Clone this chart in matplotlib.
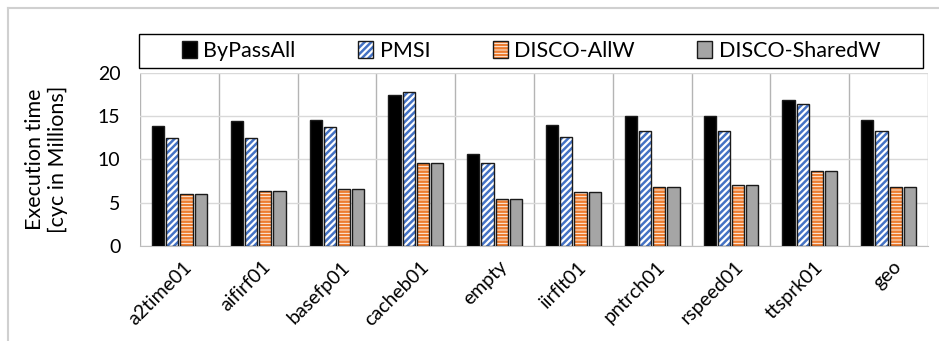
import matplotlib
matplotlib.use('Agg')
from matplotlib import pyplot as plt
from matplotlib.lines import Line2D
from matplotlib.patches import Rectangle
from matplotlib.legend_handler import HandlerTuple
from matplotlib.transforms import ScaledTranslation
import numpy as np

plt.rcParams['font.family'] = ['Lato', 'DejaVu Sans']
plt.rcParams['hatch.linewidth'] = 1.8

benchmarks = ['a2time01', 'aifirf01', 'basefp01', 'cacheb01', 'empty',
              'iirflt01', 'pntrch01', 'rspeed01', 'ttsprk01', 'geo']
series = ['ByPassAll', 'PMSI', 'DISCO-AllW', 'DISCO-SharedW']
bypass_all = [13.8, 14.4, 14.5, 17.4, 10.6, 14.0, 15.0, 15.0, 16.8, 14.5]
pmsi = [12.4, 12.4, 13.7, 17.8, 9.6, 12.6, 13.2, 13.3, 16.4, 13.3]
disco_allw = [6.05, 6.35, 6.55, 9.6, 5.4, 6.25, 6.8, 7.05, 8.6, 6.8]
disco_sharedw = [6.05, 6.35, 6.55, 9.6, 5.4, 6.25, 6.8, 7.05, 8.6, 6.8]
y_ticks = [0, 5, 10, 15, 20]

W, H = 939, 341
fig = plt.figure(figsize=(W / 100, H / 100), dpi=100)
ax = fig.add_axes([140 / W, 1 - 246 / H, 788 / W, 173.5 / H])

x = np.arange(len(benchmarks))
width = 0.155
offsets = [-0.27, -0.09, 0.09, 0.27]

# (face, hatch colour, hatch)
styles = [('black', None, None),
          ('white', '#4472C4', '/////'),
          ('white', '#ED7D31', '-----'),
          ('#A5A5A5', None, None)]
values = [bypass_all, pmsi, disco_allw, disco_sharedw]

handles = []
for vals, off, (fc, hc, hatch), name in zip(values, offsets, styles, series):
    if hatch:
        b1 = ax.bar(x + off, vals, width, facecolor=fc, edgecolor=hc,
                    hatch=hatch, linewidth=0, zorder=3)
        b2 = ax.bar(x + off, vals, width, fill=False, edgecolor='#1a1a1a',
                    linewidth=1.0, zorder=4)
        handles.append((b1[0], b2[0]))
    else:
        b = ax.bar(x + off, vals, width, facecolor=fc, edgecolor='#1a1a1a',
                   linewidth=1.0, zorder=3)
        handles.append(b[0])

ax.set_xlim(-0.5, len(benchmarks) - 0.5)
ax.set_ylim(0, 20)
ax.set_yticks(y_ticks)
ax.yaxis.grid(True, color='#d9d9d9', linewidth=1, zorder=0)
for b in np.arange(-0.5, len(benchmarks), 1):
    ax.axvline(b, color='#b4b4b4', linewidth=1, zorder=1)
for s in ['top', 'right', 'left']:
    ax.spines[s].set_visible(False)
ax.spines['bottom'].set_color('#bfbfbf')
ax.tick_params(axis='y', length=0, labelsize=14, pad=14)
ax.tick_params(axis='x', length=0, labelsize=14, pad=13)
ax.set_xticks(x)
ax.set_xticklabels(benchmarks, rotation=45, ha='right', va='center',
                   rotation_mode='anchor')
shift = ScaledTranslation(10 / 100, 0, fig.dpi_scale_trans)
for lab in ax.get_xticklabels():
    lab.set_transform(lab.get_transform() + shift)

ax.set_ylabel('Execution time\n[cyc in Millions]', fontsize=15.5, linespacing=1.15)
ax.yaxis.set_label_coords(-0.092, 0.5)

# legend box
fig.add_artist(Rectangle((139 / W, 1 - 68 / H), 784 / W, 34 / H,
                         transform=fig.transFigure, fill=False,
                         edgecolor='black', linewidth=1))
fig.legend(handles, series, loc='center', ncol=4, frameon=False,
           bbox_to_anchor=(531 / W, 1 - 51 / H), fontsize=15.5,
           handlelength=0.7, handleheight=0.8, handletextpad=0.3,
           columnspacing=2.9, borderaxespad=0,
           handler_map={tuple: HandlerTuple(ndivide=1, pad=0)})

# outer chart frame (partially visible)
fig.add_artist(Line2D([8 / W, 1], [1 - 8 / H, 1 - 8 / H],
                      transform=fig.transFigure, color='#d0d0d0', linewidth=1.5))
fig.add_artist(Line2D([8 / W, 8 / W], [0, 1 - 8 / H],
                      transform=fig.transFigure, color='#d0d0d0', linewidth=1.5))

fig.savefig('out.png', dpi=100)
